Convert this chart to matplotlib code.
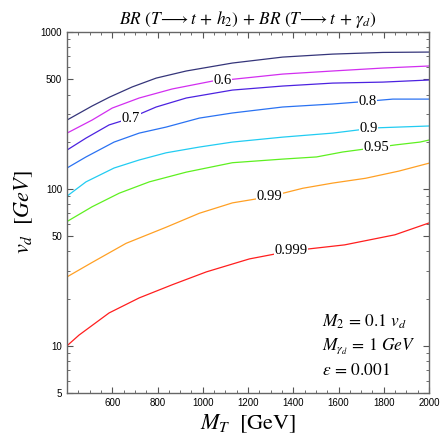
import numpy as np
import matplotlib
matplotlib.use("Agg")
import matplotlib.pyplot as plt
from matplotlib.ticker import FixedLocator, NullFormatter, LogLocator

plt.rcParams['mathtext.fontset'] = 'custom'
plt.rcParams['mathtext.rm'] = 'STIXGeneral'
plt.rcParams['mathtext.it'] = 'STIXGeneral:italic'
plt.rcParams['mathtext.bf'] = 'STIXGeneral:bold'
plt.rcParams['mathtext.fallback'] = 'stix'

# curves: (M_T, v_d) for each BR level
top_x = [400, 511, 588, 688, 794, 927, 1131, 1353, 1574, 1796, 2000]
top_y = [275, 338, 385, 447, 509, 565, 635, 693, 724, 742, 746]

l06_x = [400, 511, 600, 719, 865, 1042, 1131, 1353, 1574, 1796, 2000]
l06_y = [227, 275, 328, 380, 434, 487, 500, 540, 565, 590, 608]

l07_x = [400, 484, 586, 683, 732, 794, 927, 1131, 1353, 1574, 1796, 2000]
l07_y = [177, 211, 256, 283, 305, 333, 380, 427, 453, 473, 480, 495]

l08_x = [400, 484, 608, 719, 838, 985, 1131, 1353, 1574, 1685, 1840, 2000]
l08_y = [136, 160, 199, 227, 248, 283, 305, 333, 348, 358, 374, 374]

l09_x = [400, 484, 608, 719, 838, 985, 1131, 1353, 1574, 1760, 2000]
l09_y = [90, 111, 136, 153, 170, 185, 199, 214, 227, 245, 252]

l095_x = [400, 511, 631, 764, 927, 1131, 1353, 1503, 1618, 1720, 1853, 1960, 2000]
l095_y = [62, 77, 94, 111, 128, 147, 155, 160, 172, 180, 191, 199, 205]

l099_x = [400, 511, 661, 838, 985, 1131, 1290, 1442, 1574, 1720, 1867, 2000]
l099_y = [27.5, 34, 45, 57, 70, 81.5, 89, 101, 109, 117, 130, 146]

l0999_x = [400, 453, 586, 719, 865, 1016, 1206, 1392, 1627, 1849, 2000]
l0999_y = [10, 11.7, 16.2, 20.2, 24.5, 29.6, 35.8, 40.3, 44, 51, 60.7]

curves = [
    (top_x, top_y, "#35357a", None, None),
    (l06_x, l06_y, "#d22ef0", "0.6", 1087),
    (l07_x, l07_y, "#4c22e0", "0.7", 683),
    (l08_x, l08_y, "#2a72f2", "0.8", 1729),
    (l09_x, l09_y, "#22ccf2", "0.9", 1733),
    (l095_x, l095_y, "#5ef020", "0.95", 1769),
    (l099_x, l099_y, "#ffa024", "0.99", 1295),
    (l0999_x, l0999_y, "#ff1e1e", "0.999", 1392),
]

fig = plt.figure(figsize=(4.42, 4.38), dpi=100)
ax = fig.add_axes([0.1516, 0.1027, 0.819, 0.824])

for xs, ys, col, lab, lx in curves:
    ax.plot(xs, ys, color=col, lw=0.9)
    if lab:
        ly = 10 ** np.interp(lx, xs, np.log10(ys))
        ax.text(lx, ly, lab, ha='center', va='center', fontsize=10.5,
                family='Liberation Serif',
                bbox=dict(facecolor='white', edgecolor='none', pad=0.3))

ax.set_yscale('log')
ax.set_xlim(400, 2000)
ax.set_ylim(5, 1000)

ax.set_xticks(np.arange(600, 2001, 200))
ax.xaxis.set_minor_locator(FixedLocator(np.arange(400, 2001, 50)))
ax.yaxis.set_major_locator(FixedLocator([5, 10, 50, 100, 500, 1000]))
ax.set_yticklabels(['5', '10', '50', '100', '500', '1000'])
ax.yaxis.set_minor_locator(LogLocator(base=10, subs=np.arange(1, 10)))
ax.yaxis.set_minor_formatter(NullFormatter())

ax.tick_params(which='both', direction='in', top=True, right=True,
               colors='#555555', labelcolor='black', labelsize=7)
ax.tick_params(which='major', length=4, width=0.8)
ax.tick_params(which='minor', length=2.2, width=0.6)
for lbl in ax.get_xticklabels() + ax.get_yticklabels():
    lbl.set_family('Liberation Sans')
for s in ax.spines.values():
    s.set_color('#666666')
    s.set_linewidth(1.0)

ax.set_title(r"$BR\ (T\!\longrightarrow t\,+\,h_2)\,+\,BR\ (T\!\longrightarrow t\,+\,\gamma_d)$",
             fontsize=12.5, pad=6)
ax.set_ylabel(r"$v_d\ \ [GeV]$", fontsize=16, labelpad=4)
ax.set_xlabel(r"$M_T\ \ \mathrm{[GeV]}$", fontsize=16, labelpad=3)

ax.text(0.704, 0.197, r"$M_2\,=\,\mathit{0.1}\ v_d$", transform=ax.transAxes, fontsize=12.5, va='center')
ax.text(0.704, 0.130, r"$M_{\gamma_d}\,=\,\mathit{1}\ GeV$", transform=ax.transAxes, fontsize=12.5, va='center')
ax.text(0.704, 0.064, r"$\epsilon\,=\,\mathit{0.001}$", transform=ax.transAxes, fontsize=12.5, va='center')

fig.savefig("out.png", dpi=100)
